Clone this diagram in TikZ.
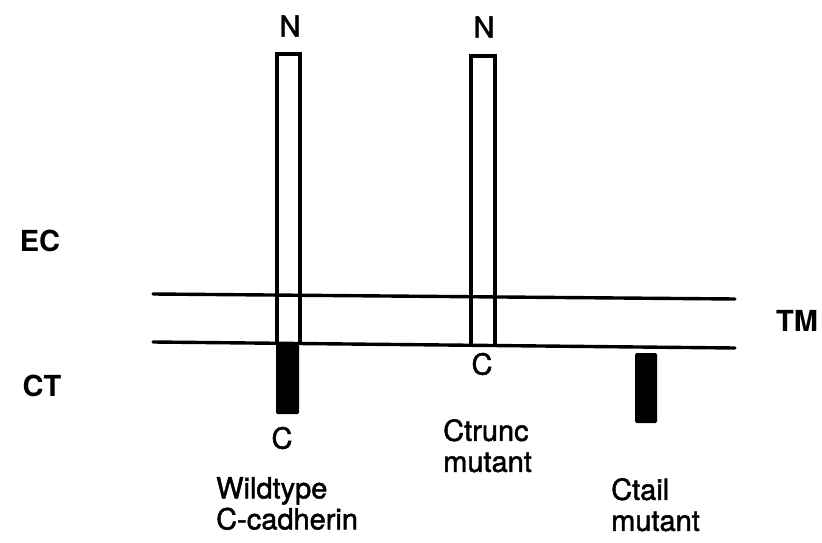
\documentclass[tikz,border=0pt]{standalone}
\usepackage{fontspec}
\setmainfont{TeX Gyre Heros}
\newfontfamily\medfont[FakeBold=1.6]{TeX Gyre Heros}
\begin{document}
\begin{tikzpicture}[x=1pt,y=-1pt,
  mem/.style={line width=3.4pt,line cap=round},
  protein/.style={draw,line width=3.2pt},
  tail/.style={fill=black,rounded corners=1.5pt},
  lbl/.style={font=\medfont\fontsize{29}{30}\selectfont,inner sep=0pt},
  region/.style={font=\fontsize{29}{30}\selectfont\bfseries,inner sep=0pt},
  captxt/.style={font=\medfont\fontsize{29}{31}\selectfont,inner sep=0pt,align=left,anchor=north west}]
\useasboundingbox (0,0) rectangle (822,543);
% membrane
\coordinate (mtl) at (153,294);
\coordinate (mtr) at (735,299);
\coordinate (mbl) at (153,342);
\coordinate (mbr) at (735,348);
\draw[mem] (mtl) -- (mtr);
\draw[mem] (mbl) -- (mbr);
% wildtype
\draw[protein] (277,343) -- (277,54) -- (300,54) -- (300,343);
\fill[tail] (276,343) rectangle (299,414);
% Ctrunc
\draw[protein] (471,345) -- (471,56) -- (495,56) -- (495,345);
% Ctail
\fill[tail] (635,353) rectangle (657,423);
% labels
\node[lbl] (n1) at (290,26) {N};
\node[lbl] (n2) at (484,27) {N};
\node[lbl] (c1) at (282,438) {C};
\node[lbl] (c2) at (482,364) {C};
\node[region] (ec) at (40,241) {EC};
\node[region] (tm) at (797,321) {TM};
\node[region] (ct) at (42,386) {CT};
\node[captxt] (wt) at (216,477) {Wildtype\\C-cadherin};
\node[captxt] (trunc) at (443,419) {Ctrunc\\mutant};
\node[captxt] (tail) at (611,478) {Ctail\\mutant};
\end{tikzpicture}
\end{document}
